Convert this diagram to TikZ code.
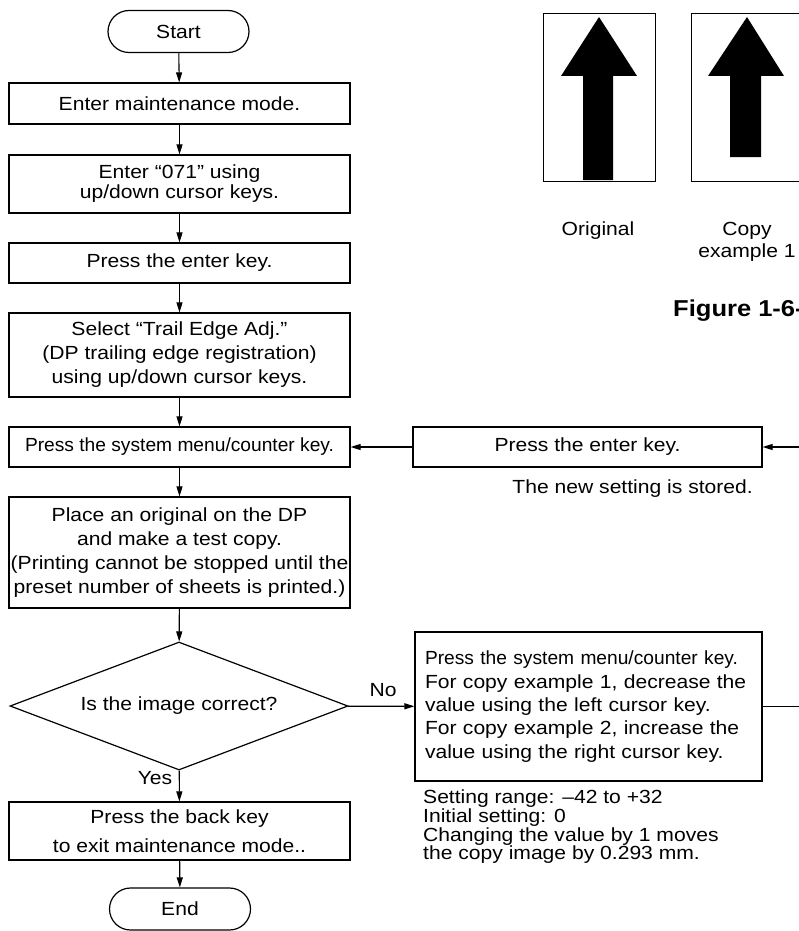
\documentclass[tikz,border=0pt]{standalone}
\usepackage{fontspec}
\setmainfont{Liberation Sans}[FakeStretch=1.11]
\newfontfamily\narrowfont{Liberation Sans}[FakeStretch=1.01]
\usetikzlibrary{positioning,shapes.geometric,arrows.meta}
\newcommand\tightlines{\lineskiplimit=-20pt\relax}
\tikzset{
  >={Triangle[length=10pt,width=6pt]},
  every node/.style={font=\fontsize{19}{24}\selectfont},
  % --- nodes
  box/.style  = {draw, line width=1.2pt, minimum width=341pt, align=center, inner sep=0pt},
  term/.style = {draw, line width=1.2pt, rounded corners=21pt, minimum width=141pt,
                 minimum height=42pt, inner sep=0pt},
  ask/.style  = {diamond, draw, line width=1.2pt, minimum width=338pt, minimum height=128pt,
                 aspect=2.6, inner sep=0pt},
  note/.style = {align=left, inner sep=0pt},
  lbl/.style  = {inner sep=0pt},
  % --- edges
  e/.style    = {->, line width=1.1pt},
  ln/.style   = {line width=1.1pt},
  frame/.style= {draw, line width=1pt},
}
\begin{document}
\begin{tikzpicture}[x=1pt,y=-1pt]
  \useasboundingbox (0,0) rectangle (799,931);
  \clip (0,0) rectangle (799,931);

  % main flow
  \node[term] (start) at (178.5,31.5) {Start};
  \node[box, minimum height=41pt] (mmode) at (179.5,103.5) {Enter maintenance mode.};
  \node[box, minimum height=58pt, font=\fontsize{19}{20}\selectfont] (code) at (179.5,184)
    {Enter “071” using\\up/down cursor keys.};
  \node[box, minimum height=40pt] (enter) at (179.5,263) {Press the enter key.};
  \node[box, minimum height=84pt] (select) at (179.5,355)
    {Select “Trail Edge Adj.”\\(DP trailing edge registration)\\using up/down cursor keys.};
  \node[box, minimum height=40pt, font=\narrowfont\fontsize{19}{24}\selectfont] (sysmenu) at (179.5,447)
    {Press the system menu/counter key.};
  \node[box, minimum height=111pt] (test) at (179.5,552.5)
    {Place an original on the DP\\and make a test copy.\\(Printing cannot be stopped until the\\preset number of sheets is printed.)};
  \node[ask] (check) at (179,706) {Is the image correct?};
  \node[box, minimum height=58pt, font=\fontsize{19}{29}\selectfont] (back) at (179.5,831)
    {Press the back key\\to exit maintenance mode..};
  \node[term] (finish) at (180,909) {End};

  % right branch
  \node[box, minimum width=349pt, minimum height=40pt] (store) at (587.5,447) {Press the enter key.};
  \node[note, anchor=east] (stored) at (753,489) {The new setting is stored.};
  \node[box, minimum width=347pt, minimum height=149pt, align=left, text width=327pt,
        font=\fontsize{19}{23.3}\selectfont] (adjust) at (588.5,706.5)
    {{\narrowfont Press the system menu/counter key.}\\For copy example 1, decrease the\\value using the left cursor key.\\For copy example 2, increase the\\value using the right cursor key.};
  \node[note, anchor=north west, font=\fontsize{19}{18.6}\selectfont\tightlines] (range) at (423,790)
    {Setting range: –42 to +32\\Initial setting: 0\\Changing the value by 1 moves\\the copy image by 0.293 mm.};
  \node[lbl] (no) at (383,690) {No};
  \node[lbl] (yes) at (155,778) {Yes};
  \coordinate (rin) at (830,447);
  \coordinate (rout) at (830,706.5);

  % sample copies
  \draw[frame] (543,14) rectangle (655,181);
  \fill (599,17) -- (637,76) -- (613,76) -- (613,180) -- (583,180) -- (583,76) -- (561,76) -- cycle;
  \draw[frame] (691,14) rectangle (830,181);
  \fill (747,17) -- (784,76) -- (761,76) -- (761,157) -- (730,157) -- (730,76) -- (708,76) -- cycle;
  \node[lbl] (orig) at (598,231) {Original};
  \node[lbl, align=center, font=\fontsize{19}{22}\selectfont] (copy1) at (747,242) {Copy\\example 1};
  \node[lbl, anchor=west, font=\bfseries\fontsize{23}{26}\selectfont] (fig) at (673,311) {Figure 1-6-6};

  \draw[e] (start) -- (mmode); \draw[e] (mmode) -- (code); \draw[e] (code) -- (enter);
  \draw[e] (enter) -- (select); \draw[e] (select) -- (sysmenu); \draw[e] (sysmenu) -- (test);
  \draw[e] (test) -- (check); \draw[e] (check) -- (back); \draw[e] (back) -- (finish);
  \draw[e] (check) -- (adjust); \draw[e] (store) -- (sysmenu);
  \draw[e] (rin) -- (store); \draw[ln] (adjust) -- (rout);
\end{tikzpicture}
\end{document}
